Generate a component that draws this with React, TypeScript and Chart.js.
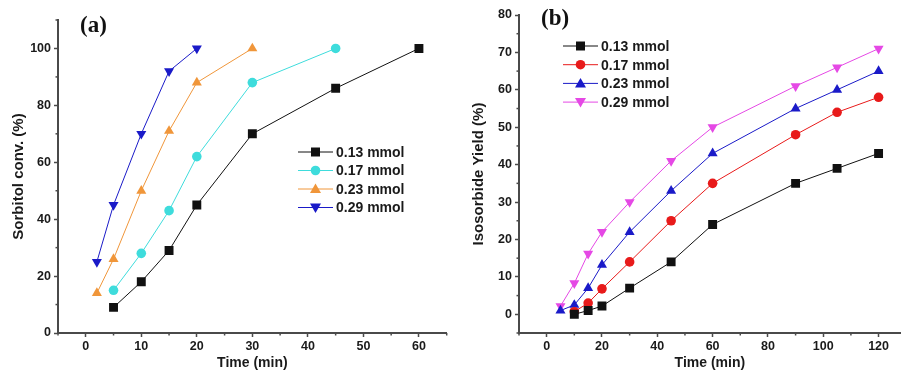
import React, { useEffect, useRef } from 'react';
import { Chart, registerables } from 'chart.js';

Chart.register(...registerables);

const seriesLabels = ['0.13 mmol', '0.17 mmol', '0.23 mmol', '0.29 mmol'];

// Panel (a): Sorbitol conversion (%) vs time (min)
const convTime13 = [5, 10, 15, 20, 30, 45, 60];
const conv13 = [9, 18, 29, 45, 70, 86, 100];
const convTime17 = [5, 10, 15, 20, 30, 45];
const conv17 = [15, 28, 43, 62, 88, 100];
const convTime23 = [2, 5, 10, 15, 20, 30];
const conv23 = [14, 26, 50, 71, 88, 100];
const convTime29 = [2, 5, 10, 15, 20];
const conv29 = [25, 45, 70, 92, 100];

// Panel (b): Isosorbide yield (%) vs time (min)
const yieldTime13 = [10, 15, 20, 30, 45, 60, 90, 105, 120];
const yield13 = [0, 1, 2.2, 7, 14, 24, 35, 39, 43];
const yieldTime17 = [10, 15, 20, 30, 45, 60, 90, 105, 120];
const yield17 = [0.7, 3, 6.8, 14, 25, 35, 48, 54, 58];
const yieldTime23 = [5, 10, 15, 20, 30, 45, 60, 90, 105, 120];
const yield23 = [1, 2.5, 7, 13.2, 22, 33, 43, 55, 60, 65];
const yieldTime29 = [5, 10, 15, 20, 30, 45, 60, 90, 105, 120];
const yield29 = [2.2, 8.3, 16.2, 22, 30, 41, 50, 61, 66, 71];

// Tick values
const aXTicks = [0, 10, 20, 30, 40, 50, 60];
const aXMinor = [-5, 5, 15, 25, 35, 45, 55, 65];
const aYTicks = [0, 20, 40, 60, 80, 100];
const aYMinor = [10, 30, 50, 70, 90, 110];
const bXTicks = [0, 20, 40, 60, 80, 100, 120];
const bXMinor = [-10, 10, 30, 50, 70, 90, 110];
const bYTicks = [0, 10, 20, 30, 40, 50, 60, 70, 80];
const bYMinor = [-5, 5, 15, 25, 35, 45, 55, 65, 75];

const colorsA = ['#111111', '#3EDCDC', '#F0963A', '#1A1AC8'];
const colorsB = ['#111111', '#E81A1A', '#1A1AC8', '#E548E5'];
const styles = ['rect', 'circle', 'triangle', 'triangleDown'];

const FONT = "'Liberation Sans', Arial, sans-serif";
const AXIS = '#4a4a4a';

function pts(xs: number[], ys: number[]) {
  return xs.map((x, i) => ({ x, y: ys[i] }));
}

function drawMarker(ctx: CanvasRenderingContext2D, style: string, x: number, y: number, color: string) {
  ctx.save();
  ctx.fillStyle = color;
  ctx.strokeStyle = color;
  ctx.beginPath();
  if (style === 'rect') {
    ctx.rect(x - 4.5, y - 4.5, 9, 9);
  } else if (style === 'circle') {
    ctx.arc(x, y, 4.8, 0, Math.PI * 2);
  } else if (style === 'triangle') {
    ctx.moveTo(x, y - 5.5);
    ctx.lineTo(x + 5.5, y + 4);
    ctx.lineTo(x - 5.5, y + 4);
    ctx.closePath();
  } else {
    ctx.moveTo(x, y + 5.5);
    ctx.lineTo(x + 5.5, y - 4);
    ctx.lineTo(x - 5.5, y - 4);
    ctx.closePath();
  }
  ctx.fill();
  ctx.restore();
}

const extrasPlugin = {
  id: 'extras',
  afterDatasetsDraw(chart: any, _args: any, opts: any) {
    const ctx: CanvasRenderingContext2D = chart.ctx;
    // minor ticks
    ctx.save();
    ctx.strokeStyle = AXIS;
    ctx.lineWidth = 1.5;
    const xs = chart.scales.x;
    const ys = chart.scales.y;
    (opts.minorX || []).forEach((v: number) => {
      const p = xs.getPixelForValue(v);
      ctx.beginPath();
      ctx.moveTo(p, xs.top);
      ctx.lineTo(p, xs.top + 2.5);
      ctx.stroke();
    });
    (opts.minorY || []).forEach((v: number) => {
      const p = ys.getPixelForValue(v);
      ctx.beginPath();
      ctx.moveTo(ys.right, p);
      ctx.lineTo(ys.right - 2.5, p);
      ctx.stroke();
    });
    ctx.restore();

    // panel label
    ctx.save();
    ctx.fillStyle = '#111';
    ctx.font = "bold 23px 'Liberation Serif', 'Times New Roman', serif";
    ctx.textBaseline = 'middle';
    ctx.textAlign = 'left';
    ctx.fillText(opts.label, opts.labelX, opts.labelY);
    ctx.restore();

    // legend
    const lg = opts.legend;
    chart.data.datasets.forEach((ds: any, i: number) => {
      const y = lg.y + i * lg.rowH;
      ctx.save();
      ctx.strokeStyle = ds.borderColor;
      ctx.lineWidth = 1;
      ctx.beginPath();
      ctx.moveTo(lg.x, y);
      ctx.lineTo(lg.x + lg.lineW, y);
      ctx.stroke();
      ctx.restore();
      drawMarker(ctx, ds._style, lg.x + lg.lineW / 2, y, ds.borderColor);
      ctx.save();
      ctx.fillStyle = '#1a1a1a';
      ctx.font = `bold 14px ${FONT}`;
      ctx.textBaseline = 'middle';
      ctx.textAlign = 'left';
      ctx.fillText(ds.label, lg.x + lg.lineW + 3, y + 1);
      ctx.restore();
    });
  },
};

function makeDatasets(series: { x: number[]; y: number[] }[], colors: string[]) {
  return series.map((s, i) => {
    const st = styles[i];
    return {
      label: seriesLabels[i],
      data: pts(s.x, s.y),
      borderColor: colors[i],
      backgroundColor: colors[i],
      borderWidth: 1,
      pointStyle: st === 'triangleDown' ? 'triangle' : st,
      rotation: st === 'triangleDown' ? 180 : 0,
      pointRadius: st === 'rect' ? 6.3 : st === 'circle' ? 4.8 : 5.8,
      pointBorderWidth: 0,
      tension: 0,
      _style: st,
    } as any;
  });
}

function tickFont() {
  return { family: FONT, size: 12.5, weight: 'bold' as const };
}

function makeConfig(p: {
  datasets: any[];
  xMin: number; xMax: number; yMin: number; yMax: number;
  xTicks: number[]; yTicks: number[]; xMinor: number[]; yMinor: number[];
  yTitle: string; yTitlePad: number; yWidth: number; padTop: number; padRight: number;
  label: string; labelX: number; labelY: number; legend: any;
}): any {
  return {
    type: 'line',
    data: { datasets: p.datasets },
    options: {
      animation: false,
      responsive: false,
      maintainAspectRatio: false,
      layout: { padding: { top: p.padTop, right: p.padRight, left: 0, bottom: 0 } },
      plugins: {
        legend: { display: false },
        tooltip: { enabled: false },
        extras: {
          minorX: p.xMinor, minorY: p.yMinor,
          label: p.label, labelX: p.labelX, labelY: p.labelY,
          legend: p.legend,
        },
      },
      scales: {
        x: {
          type: 'linear',
          min: p.xMin,
          max: p.xMax,
          afterBuildTicks: (s: any) => { s.ticks = p.xTicks.map((v) => ({ value: v })); },
          afterFit: (s: any) => { s.height = 42; },
          grid: { display: true, drawOnChartArea: false, drawTicks: true, tickLength: 4, tickColor: AXIS, tickWidth: 1.5 },
          border: { display: true, color: AXIS, width: 2 },
          ticks: { color: '#1a1a1a', font: tickFont(), padding: 2, maxRotation: 0, autoSkip: false },
          title: {
            display: true, text: 'Time (min)', color: '#1a1a1a',
            font: { family: FONT, size: 14, weight: 'bold' }, padding: { top: 0, bottom: 3 },
          },
        },
        y: {
          type: 'linear',
          min: p.yMin,
          max: p.yMax,
          afterBuildTicks: (s: any) => { s.ticks = p.yTicks.map((v) => ({ value: v })); },
          afterFit: (s: any) => { s.width = p.yWidth; },
          grid: { display: true, drawOnChartArea: false, drawTicks: true, tickLength: 4, tickColor: AXIS, tickWidth: 1.5 },
          border: { display: true, color: AXIS, width: 2 },
          ticks: { color: '#1a1a1a', font: tickFont(), padding: 3, autoSkip: false },
          title: {
            display: true, text: p.yTitle, color: '#1a1a1a',
            font: { family: FONT, size: 15, weight: 'bold' }, padding: { top: p.yTitlePad, bottom: 0 },
          },
        },
      },
    },
    plugins: [extrasPlugin],
  };
}

function Panel(props: { config: any; width: number; height: number; left: number }) {
  const ref = useRef<HTMLCanvasElement | null>(null);
  useEffect(() => {
    if (!ref.current) return;
    const chart = new Chart(ref.current, props.config);
    return () => chart.destroy();
  }, []);
  return (
    <canvas
      ref={ref}
      width={props.width}
      height={props.height}
      style={{ position: 'absolute', left: props.left, top: 0, width: props.width, height: props.height }}
    />
  );
}

export default function App() {
  const cfgA = makeConfig({
    datasets: makeDatasets(
      [
        { x: convTime13, y: conv13 },
        { x: convTime17, y: conv17 },
        { x: convTime23, y: conv23 },
        { x: convTime29, y: conv29 },
      ],
      colorsA,
    ),
    xMin: -5, xMax: 65, yMin: 0, yMax: 110,
    xTicks: aXTicks, yTicks: aYTicks, xMinor: aXMinor, yMinor: aYMinor,
    yTitle: 'Sorbitol conv. (%)', yTitlePad: 10, yWidth: 58, padTop: 20, padRight: 5,
    label: '(a)', labelX: 80, labelY: 26,
    legend: { x: 298, y: 152, rowH: 18.5, lineW: 35 },
  });
  const cfgB = makeConfig({
    datasets: makeDatasets(
      [
        { x: yieldTime13, y: yield13 },
        { x: yieldTime17, y: yield17 },
        { x: yieldTime23, y: yield23 },
        { x: yieldTime29, y: yield29 },
      ],
      colorsB,
    ),
    xMin: -10, xMax: 128, yMin: -5, yMax: 80,
    xTicks: bXTicks, yTicks: bYTicks, xMinor: bXMinor, yMinor: bYMinor,
    yTitle: 'Isosorbide Yield (%)', yTitlePad: 17, yWidth: 66, padTop: 15, padRight: 0,
    label: '(b)', labelX: 88, labelY: 19,
    legend: { x: 110, y: 46, rowH: 18.7, lineW: 35 },
  });
  return (
    <div style={{ position: 'fixed', left: 0, top: 0, width: 907, height: 375, background: '#fff', overflow: 'hidden' }}>
      <Panel config={cfgA} width={453} height={375} left={0} />
      <Panel config={cfgB} width={454} height={375} left={453} />
    </div>
  );
}
